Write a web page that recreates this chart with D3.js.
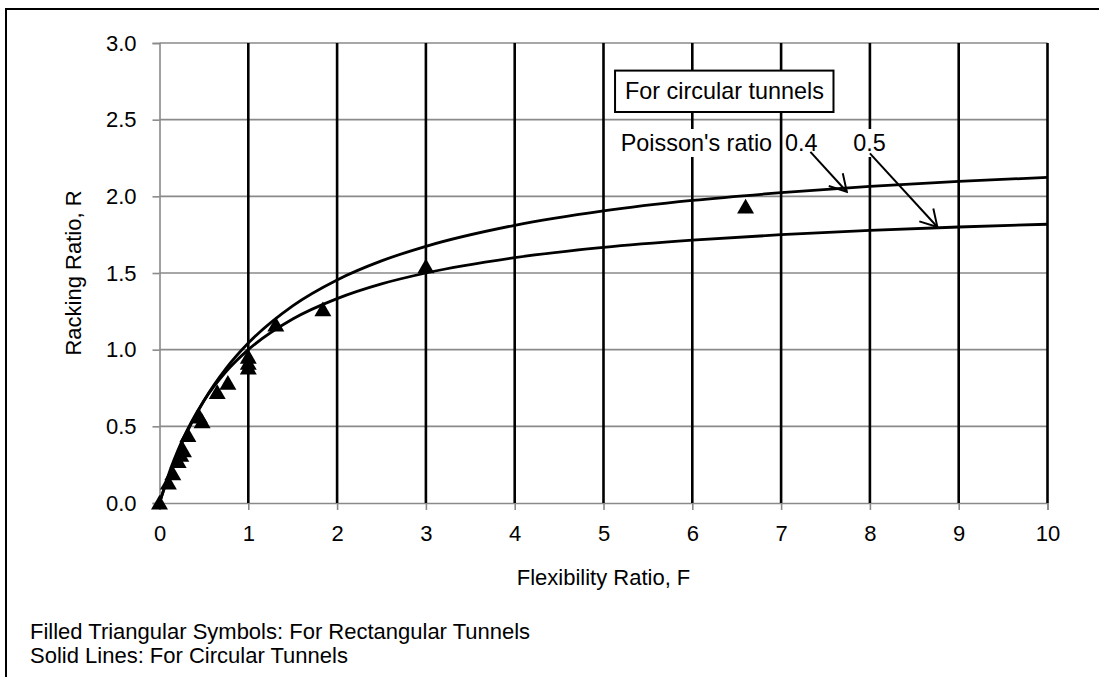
<!DOCTYPE html>
<html lang="en">
<head>
<meta charset="utf-8">
<title>Racking Ratio vs Flexibility Ratio</title>
<style>
body{
  margin: 0;
  background: #fff;
}
svg text{
  font-family: "Liberation Sans", Arial, sans-serif;
  font-size: 22px;
  fill: #000;
}
svg text.note{
  font-size: 23.4px;
}
</style>
</head>
<body>
<div id="chart"></div>
<script src="https://cdn.jsdelivr.net/npm/d3@7/dist/d3.min.js"></script>
<script>

const width = 1099;
const height = 677;

// tick values
const xTicks = [0, 1, 2, 3, 4, 5, 6, 7, 8, 9, 10];
const yTicks = [0, 0.5, 1.0, 1.5, 2.0, 2.5, 3.0];

// circular tunnel curves
const curveF  = [0, 0.1, 0.25, 0.5, 0.75, 1, 1.5, 2, 2.5, 3, 4, 5, 6, 7, 8, 9, 10];
const rNu04   = [0, 0.171, 0.387, 0.667, 0.878, 1.043, 1.286, 1.455, 1.579, 1.674, 1.811, 1.905, 1.973, 2.024, 2.065, 2.097, 2.124];
const rNu05   = [0, 0.182, 0.400, 0.667, 0.857, 1.000, 1.200, 1.333, 1.429, 1.500, 1.600, 1.667, 1.714, 1.750, 1.778, 1.800, 1.818];

// rectangular tunnel points
const rectF = [0, 0.10, 0.15, 0.21, 0.24, 0.27, 0.32, 0.45, 0.48, 0.65, 0.77, 1.0, 1.0, 1.0, 1.31, 1.84, 3.0, 6.6];
const rectR = [0, 0.13, 0.19, 0.27, 0.31, 0.34, 0.44, 0.56, 0.53, 0.72, 0.78, 0.88, 0.91, 0.95, 1.16, 1.26, 1.54, 1.93];

const xS = d3.scaleLinear().domain([0, 10]).range([159.5, 1047.5]);
const yS = d3.scaleLinear().domain([0, 3]).range([503, 43]);

const svg = d3.select('#chart')
  .append('svg')
  .attr('width', width)
  .attr('height', height);

// open V arrow head
svg.append('defs').append('marker')
  .attr('id', 'arrow')
  .attr('viewBox', '0 0 10 11.6')
  .attr('refX', 10)
  .attr('refY', 5.8)
  .attr('markerWidth', 8.2)
  .attr('markerHeight', 9.5)
  .attr('orient', 'auto')
  .attr('overflow', 'visible')
  .append('path')
  .attr('d', 'M0,0 L10,5.8 L0,11.6')
  .attr('fill', 'none')
  .attr('stroke', '#000')
  .attr('stroke-width', 1.2);

// outer frame
svg.append('rect')
  .attr('x', 6).attr('y', 9)
  .attr('width', width + 20).attr('height', height + 20)
  .attr('fill', 'none')
  .attr('stroke', '#000')
  .attr('stroke-width', 2);

// horizontal grid (gray)
svg.append('g')
  .selectAll('line')
  .data(yTicks.slice(1))
  .join('line')
  .attr('x1', xS(0)).attr('x2', xS(10))
  .attr('y1', d => yS(d)).attr('y2', d => yS(d))
  .attr('stroke', '#8a8a8a')
  .attr('stroke-width', 1.6);

// y axis
const yAxis = svg.append('g')
  .attr('transform', 'translate(' + xS(0) + ',0)')
  .call(d3.axisLeft(yS).tickValues(yTicks).tickFormat(d3.format('.1f')).tickSize(7).tickPadding(16));
yAxis.selectAll('path, line').attr('stroke', '#8a8a8a').attr('stroke-width', 1.6);
yAxis.attr('font-size', null).attr('font-family', null);

// x axis
const xAxis = svg.append('g')
  .attr('transform', 'translate(0,' + yS(0) + ')')
  .call(d3.axisBottom(xS).tickValues(xTicks).tickSize(7).tickPadding(15));
xAxis.selectAll('path, line').attr('stroke', '#8a8a8a').attr('stroke-width', 1.6);
xAxis.attr('font-size', null).attr('font-family', null);

// vertical grid (black)
svg.append('g')
  .selectAll('line')
  .data(xTicks.slice(1))
  .join('line')
  .attr('x1', d => xS(d)).attr('x2', d => xS(d))
  .attr('y1', yS(3)).attr('y2', yS(0))
  .attr('stroke', '#000')
  .attr('stroke-width', 2.6);

// axis titles
svg.append('text')
  .attr('transform', 'translate(81,' + yS(1.5) + ') rotate(-90)')
  .attr('text-anchor', 'middle')
  .text('Racking Ratio, R');

svg.append('text')
  .attr('x', xS(5))
  .attr('y', 585)
  .attr('text-anchor', 'middle')
  .text('Flexibility Ratio, F');

// curves
const line = d3.line()
  .x(d => xS(d[0]))
  .y(d => yS(d[1]))
  .curve(d3.curveMonotoneX);

[rNu04, rNu05].forEach(series => {
  svg.append('path')
    .datum(curveF.map((f, i) => [f, series[i]]))
    .attr('d', line)
    .attr('fill', 'none')
    .attr('stroke', '#000')
    .attr('stroke-width', 2.8);
});

// triangles
svg.append('g')
  .selectAll('path')
  .data(rectF.map((f, i) => [f, rectR[i]]))
  .join('path')
  .attr('transform', d => 'translate(' + xS(d[0]) + ',' + (yS(d[1]) + 1.5) + ')')
  .attr('d', d3.symbol().type(d3.symbolTriangle).size(125))
  .attr('fill', '#000');

// annotation box
const boxX0 = xS(5.13), boxX1 = xS(7.59), boxY0 = yS(2.82), boxY1 = yS(2.55);
svg.append('rect')
  .attr('x', boxX0).attr('y', boxY0)
  .attr('width', boxX1 - boxX0).attr('height', boxY1 - boxY0)
  .attr('fill', '#fff')
  .attr('stroke', '#000')
  .attr('stroke-width', 2);
svg.append('text')
  .attr('class', 'note')
  .attr('x', boxX0 + 10)
  .attr('y', boxY1 - 13)
  .text('For circular tunnels');

// label with white background
function label(txt, fx, base, bg) {
  const g = svg.append('g');
  const t = g.append('text').attr('class', 'note').attr('x', xS(fx)).attr('y', base).text(txt);
  if (bg) {
    const b = t.node().getBBox();
    g.insert('rect', 'text')
      .attr('x', b.x - 3).attr('y', b.y - 1)
      .attr('width', b.width + 6).attr('height', b.height + 2)
      .attr('fill', '#fff');
  }
}
label("Poisson's ratio", 5.194, 151, true);
label('0.4', 7.044, 151, false);
label('0.5', 7.813, 151, true);

// arrows
const arrows = [[7.33, 2.29, 7.74, 2.03], [8.0, 2.28, 8.76, 1.80]];
svg.append('g')
  .selectAll('line')
  .data(arrows)
  .join('line')
  .attr('x1', d => xS(d[0])).attr('y1', d => yS(d[1]))
  .attr('x2', d => xS(d[2])).attr('y2', d => yS(d[3]))
  .attr('stroke', '#000')
  .attr('stroke-width', 2)
  .attr('marker-end', 'url(#arrow)');

// notes
svg.append('text').attr('x', 30).attr('y', 639).text('Filled Triangular Symbols: For Rectangular Tunnels');
svg.append('text').attr('x', 30).attr('y', 663).text('Solid Lines: For Circular Tunnels');

</script>
</body>
</html>
